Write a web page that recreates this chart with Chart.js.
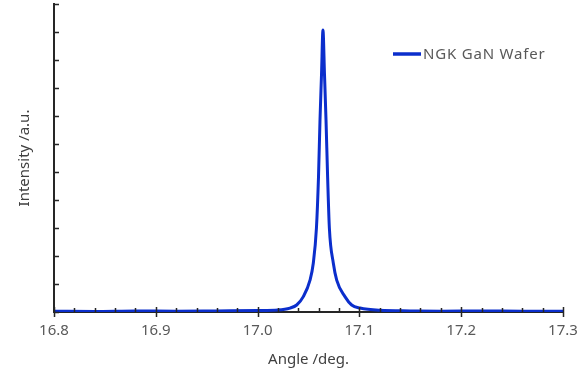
<!DOCTYPE html>
<html>
<head>
<meta charset="utf-8">
<script src="https://cdn.jsdelivr.net/npm/chart.js@4/dist/chart.umd.min.js"></script>
<style>
  html, body { margin: 0; padding: 0; background: #ffffff; }
  #wrap { width: 580px; height: 375px; }
</style>
</head>
<body>
<div id="wrap"><canvas id="xrd"></canvas></div>
<script>
// rocking curve (angle in deg, intensity in a.u.)
const angles = [16.80, 16.84, 16.88, 16.92, 16.96, 17.00, 17.02, 17.0318, 17.0384, 17.0449, 17.0515, 17.0547,
  17.0578, 17.0598, 17.0613, 17.0628, 17.0642, 17.0657, 17.0672, 17.0688, 17.0705, 17.0744, 17.0777,
  17.0858, 17.0924, 17.1006, 17.12, 17.15, 17.18, 17.22, 17.26, 17.30];
const intensity = [0.03, 0.02, 0.04, 0.03, 0.04, 0.05, 0.07, 0.14, 0.25, 0.55, 1.14, 1.74,
  3.0, 4.8, 6.86, 8.5, 10.07, 8.5, 6.86, 4.8, 3.0, 1.74, 1.14,
  0.55, 0.25, 0.14, 0.06, 0.04, 0.03, 0.04, 0.03, 0.03];
const seriesName = 'NGK GaN Wafer';
const xTicks = [16.8, 16.9, 17.0, 17.1, 17.2, 17.3];

const axisColor = '#262626';
const labelColor = '#595959';
const lineColor = '#0b2ecc';
const fontFamily = "'Noto Sans', 'Liberation Sans', sans-serif";

// ticks pointing into the plot, legend drawn inside the plot area
const axisDecor = {
  id: 'axisDecor',
  afterDraw(chart) {
    const ctx = chart.ctx;
    const xs = chart.scales.x, ys = chart.scales.y;
    const area = chart.chartArea;
    ctx.save();
    ctx.strokeStyle = axisColor;
    ctx.lineWidth = 1.5;
    ctx.beginPath();
    for (let i = 0; i <= 25; i++) {
      const v = 16.8 + i * 0.02;
      const px = Math.round(xs.getPixelForValue(v)) + 0.5;
      if (i % 5 === 0) {
        ctx.moveTo(px, area.bottom - 5);
        ctx.lineTo(px, area.bottom + 5);
      } else {
        ctx.moveTo(px, area.bottom - 4);
        ctx.lineTo(px, area.bottom);
      }
    }
    for (let v = 0; v <= 11; v++) {
      const py = Math.round(ys.getPixelForValue(v)) + 0.5;
      ctx.moveTo(area.left, py);
      ctx.lineTo(area.left + 5, py);
    }
    ctx.stroke();

    // legend
    const lx = 393, ly = 54;
    ctx.strokeStyle = lineColor;
    ctx.lineWidth = 3.5;
    ctx.beginPath();
    ctx.moveTo(lx, ly);
    ctx.lineTo(lx + 28, ly);
    ctx.stroke();
    ctx.fillStyle = labelColor;
    ctx.font = '15px ' + fontFamily;
    ctx.letterSpacing = '0.8px';
    ctx.textBaseline = 'middle';
    ctx.fillText(chart.data.datasets[0].label, lx + 30, ly + 1);
    ctx.restore();
  }
};

const ctx = document.getElementById('xrd').getContext('2d');
new Chart(ctx, {
  type: 'line',
  data: {
    datasets: [{
      label: seriesName,
      data: angles.map((a, i) => ({ x: a, y: intensity[i] })),
      borderColor: lineColor,
      borderWidth: 3,
      pointRadius: 0,
      cubicInterpolationMode: 'monotone',
      fill: false
    }]
  },
  options: {
    responsive: true,
    maintainAspectRatio: false,
    animation: false,
    layout: { padding: { top: 4, right: 17, left: 0, bottom: 0 } },
    plugins: {
      legend: { display: false },
      tooltip: { enabled: false }
    },
    scales: {
      x: {
        type: 'linear',
        min: 16.8,
        max: 17.3,
        afterBuildTicks: s => { s.ticks = xTicks.map(v => ({ value: v })); },
        grid: { display: false, drawTicks: false },
        border: { display: true, color: axisColor, width: 2 },
        ticks: {
          color: labelColor,
          padding: 10,
          font: { family: fontFamily, size: 15 },
          callback: v => Number(v).toFixed(1)
        },
        title: {
          display: true,
          text: 'Angle /deg.',
          color: '#404040',
          font: { family: fontFamily, size: 15 },
          padding: { top: 4, bottom: 6 }
        },
        afterFit: s => { s.height = 63; s.paddingRight = 0; s.paddingLeft = 0; }
      },
      y: {
        min: 0,
        max: 11,
        grid: { display: false, drawTicks: false },
        border: { display: true, color: axisColor, width: 2 },
        ticks: { display: false, stepSize: 1 },
        title: {
          display: true,
          text: 'Intensity /a.u.',
          color: '#404040',
          font: { family: fontFamily, size: 15 },
          padding: { top: 16, bottom: 0 }
        },
        afterFit: s => { s.width = 54; }
      }
    }
  },
  plugins: [axisDecor]
});
</script>
</body>
</html>
